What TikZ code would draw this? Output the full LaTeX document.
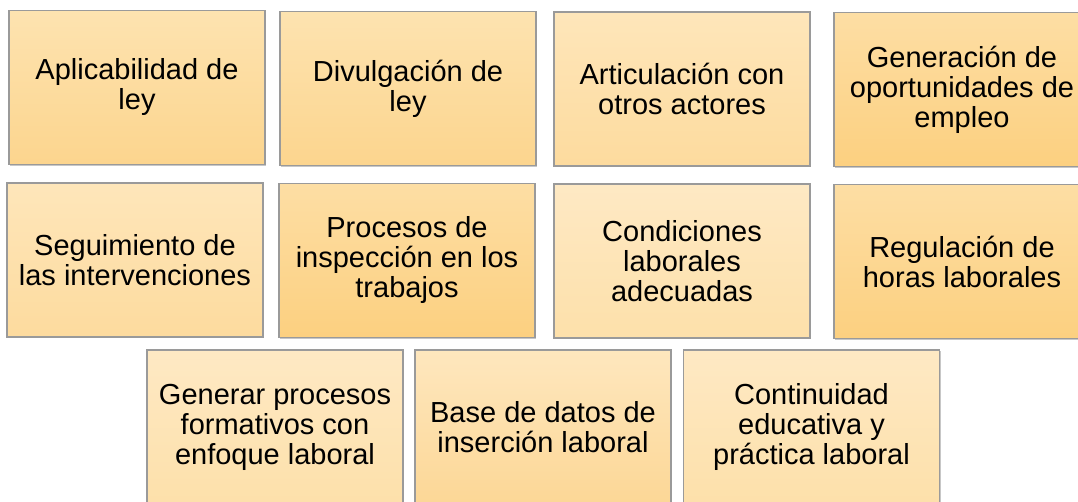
\documentclass[tikz,border=0pt]{standalone}
\usepackage{fontspec}
\setmainfont{Liberation Sans}
\usetikzlibrary{shadows}
\definecolor{bordc}{HTML}{9A9A9A}
\definecolor{lA}{HTML}{FDE3B0}
\definecolor{dA}{HTML}{FCD58E}
\definecolor{lB}{HTML}{FEE6BA}
\definecolor{dB}{HTML}{FDDB9E}
\definecolor{lC}{HTML}{FDDEA4}
\definecolor{dC}{HTML}{FCD080}
\definecolor{lD}{HTML}{FEE9C4}
\definecolor{dD}{HTML}{FDE0AA}
\definecolor{lE}{HTML}{FEE7BE}
\definecolor{dE}{HTML}{FCD796}
\tikzset{
  block/.style={rectangle, draw=bordc, line width=1.2pt,
    minimum width=256pt, minimum height=154pt, inner sep=0pt,
    align=center, text=black, font=\fontsize{29}{30}\selectfont,
    drop shadow={shadow xshift=1.3pt, shadow yshift=-1.3pt, fill=black, opacity=0.22}},
  toneA/.style={top color=lA, bottom color=dA},
  toneB/.style={top color=lB, bottom color=dB},
  toneC/.style={top color=lC, bottom color=dC},
  toneD/.style={top color=lD, bottom color=dD},
  toneE/.style={top color=lE, bottom color=dE},
}
\begin{document}
\begin{tikzpicture}[x=1pt, y=-1pt]
\useasboundingbox (0,0) rectangle (1078,502);
% row 1
\node[block, toneA] (n1) at (137,87.5) {Aplicabilidad de\\ley};
\node[block, toneA] (n2) at (408,88.5) {Divulgación de\\ley};
\node[block, toneB] (n3) at (682,89) {Articulación con\\otros actores};
\node[block, toneC] (n4) at (962,89.5) {Generación de\\oportunidades de\\empleo};
% row 2
\node[block, toneB] (n5) at (135,260) {Seguimiento de\\las intervenciones};
\node[block, toneC] (n6) at (407,260.5) {Procesos de\\inspección en los\\trabajos};
\node[block, toneD] (n7) at (682,261) {Condiciones\\laborales\\adecuadas};
\node[block, toneC] (n8) at (962,261.5) {Regulación de\\horas laborales};
% row 3
\node[block, toneD] (n9) at (275,427) {Generar procesos\\formativos con\\enfoque laboral};
\node[block, toneE] (n10) at (543,427) {Base de datos de\\inserción laboral};
\node[block, toneD] (n11) at (811.5,427) {Continuidad\\educativa y\\práctica laboral};
\end{tikzpicture}
\end{document}
